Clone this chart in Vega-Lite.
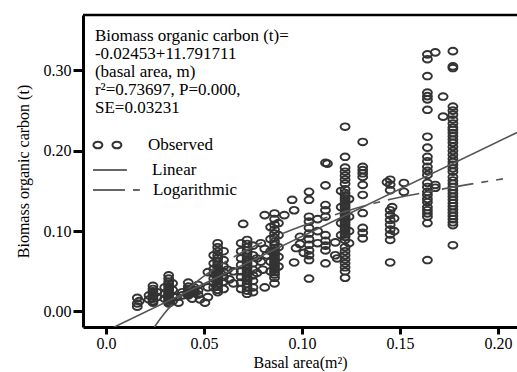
{
  "$schema": "https://vega.github.io/schema/vega-lite/v6.json",
  "width": 434,
  "height": 312,
  "autosize": {"type": "none"},
  "padding": {"left": 83, "top": 15, "right": 0, "bottom": 45},
  "background": "white",
  "config": {
    "view": {"stroke": null},
    "font": "Liberation Serif",
    "axis": {
      "grid": false,
      "domainColor": "black",
      "domainWidth": 3,
      "tickColor": "black",
      "tickWidth": 3,
      "labelFont": "Liberation Serif",
      "labelFontSize": 16,
      "labelFontWeight": "normal",
      "labelColor": "black",
      "titleFont": "Liberation Serif",
      "titleFontSize": 16,
      "titleFontWeight": "normal",
      "titleColor": "black"
    },
    "text": {"font": "Liberation Serif", "fontSize": 17, "color": "black"}
  },
  "datasets": {
    "obs": [
      {"x":0.016,"y":0.017},{"x":0.016,"y":0.010},{"x":0.016,"y":0.006},{"x":0.017,"y":0.013},
      {"x":0.024,"y":0.032},{"x":0.024,"y":0.028},{"x":0.024,"y":0.025},{"x":0.024,"y":0.022},{"x":0.024,"y":0.019},{"x":0.024,"y":0.016},{"x":0.024,"y":0.013},{"x":0.024,"y":0.011},{"x":0.022,"y":0.020},{"x":0.022,"y":0.015},{"x":0.026,"y":0.024},{"x":0.026,"y":0.018},
      {"x":0.032,"y":0.045},{"x":0.032,"y":0.041},{"x":0.032,"y":0.037},{"x":0.032,"y":0.034},{"x":0.032,"y":0.031},{"x":0.032,"y":0.028},{"x":0.032,"y":0.026},{"x":0.032,"y":0.024},{"x":0.032,"y":0.022},{"x":0.032,"y":0.020},{"x":0.032,"y":0.018},{"x":0.032,"y":0.016},{"x":0.032,"y":0.014},{"x":0.032,"y":0.012},{"x":0.032,"y":0.010},{"x":0.030,"y":0.030},{"x":0.030,"y":0.022},{"x":0.030,"y":0.016},{"x":0.034,"y":0.035},{"x":0.034,"y":0.027},{"x":0.034,"y":0.019},{"x":0.034,"y":0.013},{"x":0.037,"y":0.011},{"x":0.036,"y":0.018},
      {"x":0.042,"y":0.036},{"x":0.042,"y":0.031},{"x":0.042,"y":0.028},{"x":0.042,"y":0.026},{"x":0.042,"y":0.024},{"x":0.042,"y":0.022},{"x":0.042,"y":0.020},{"x":0.045,"y":0.030},{"x":0.045,"y":0.027},{"x":0.045,"y":0.025},{"x":0.045,"y":0.023},{"x":0.047,"y":0.033},{"x":0.047,"y":0.026},{"x":0.047,"y":0.021},{"x":0.039,"y":0.024},{"x":0.039,"y":0.020},{"x":0.044,"y":0.016},{"x":0.048,"y":0.015},{"x":0.0505,"y":0.011},
      {"x":0.057,"y":0.085},{"x":0.057,"y":0.080},{"x":0.057,"y":0.075},{"x":0.057,"y":0.070},{"x":0.057,"y":0.066},{"x":0.057,"y":0.062},{"x":0.057,"y":0.058},{"x":0.057,"y":0.055},{"x":0.057,"y":0.052},{"x":0.057,"y":0.050},{"x":0.057,"y":0.048},{"x":0.057,"y":0.046},{"x":0.057,"y":0.044},{"x":0.057,"y":0.042},{"x":0.057,"y":0.040},{"x":0.057,"y":0.038},{"x":0.057,"y":0.035},{"x":0.057,"y":0.031},{"x":0.057,"y":0.027},{"x":0.057,"y":0.024},
      {"x":0.055,"y":0.070},{"x":0.055,"y":0.060},{"x":0.055,"y":0.053},{"x":0.055,"y":0.047},{"x":0.055,"y":0.041},{"x":0.055,"y":0.036},{"x":0.055,"y":0.030},
      {"x":0.060,"y":0.075},{"x":0.060,"y":0.064},{"x":0.060,"y":0.056},{"x":0.060,"y":0.049},{"x":0.060,"y":0.043},{"x":0.060,"y":0.037},{"x":0.060,"y":0.028},
      {"x":0.052,"y":0.049},{"x":0.052,"y":0.030},{"x":0.052,"y":0.018},{"x":0.063,"y":0.040},{"x":0.062,"y":0.052},{"x":0.065,"y":0.050},{"x":0.065,"y":0.035},
      {"x":0.072,"y":0.089},{"x":0.072,"y":0.084},{"x":0.072,"y":0.080},{"x":0.072,"y":0.076},{"x":0.072,"y":0.072},{"x":0.072,"y":0.068},{"x":0.072,"y":0.065},{"x":0.072,"y":0.062},{"x":0.072,"y":0.059},{"x":0.072,"y":0.056},{"x":0.072,"y":0.053},{"x":0.072,"y":0.050},{"x":0.072,"y":0.047},{"x":0.072,"y":0.044},{"x":0.072,"y":0.041},{"x":0.072,"y":0.038},{"x":0.072,"y":0.034},{"x":0.072,"y":0.030},{"x":0.072,"y":0.026},{"x":0.072,"y":0.022},
      {"x":0.069,"y":0.085},{"x":0.069,"y":0.075},{"x":0.069,"y":0.066},{"x":0.069,"y":0.058},{"x":0.069,"y":0.050},{"x":0.069,"y":0.043},{"x":0.069,"y":0.036},{"x":0.069,"y":0.028},
      {"x":0.075,"y":0.082},{"x":0.075,"y":0.070},{"x":0.075,"y":0.060},{"x":0.075,"y":0.052},{"x":0.075,"y":0.045},{"x":0.075,"y":0.038},{"x":0.075,"y":0.030},{"x":0.075,"y":0.024},
      {"x":0.077,"y":0.066},{"x":0.077,"y":0.048},{"x":0.070,"y":0.109},{"x":0.081,"y":0.120},{"x":0.079,"y":0.085},
      {"x":0.086,"y":0.122},{"x":0.086,"y":0.115},{"x":0.086,"y":0.108},{"x":0.086,"y":0.102},{"x":0.086,"y":0.097},{"x":0.086,"y":0.092},{"x":0.086,"y":0.087},{"x":0.086,"y":0.083},{"x":0.086,"y":0.079},{"x":0.086,"y":0.076},{"x":0.086,"y":0.073},{"x":0.086,"y":0.070},{"x":0.086,"y":0.067},{"x":0.086,"y":0.064},{"x":0.086,"y":0.061},{"x":0.086,"y":0.058},{"x":0.086,"y":0.055},{"x":0.086,"y":0.052},{"x":0.086,"y":0.049},{"x":0.086,"y":0.046},{"x":0.086,"y":0.042},
      {"x":0.084,"y":0.105},{"x":0.084,"y":0.090},{"x":0.084,"y":0.075},{"x":0.084,"y":0.062},{"x":0.084,"y":0.050},
      {"x":0.088,"y":0.110},{"x":0.088,"y":0.095},{"x":0.088,"y":0.080},{"x":0.088,"y":0.068},{"x":0.088,"y":0.056},
      {"x":0.086,"y":0.035},{"x":0.079,"y":0.062},{"x":0.080,"y":0.052},{"x":0.082,"y":0.070},{"x":0.081,"y":0.078},{"x":0.081,"y":0.030},{"x":0.095,"y":0.139},{"x":0.096,"y":0.126},{"x":0.091,"y":0.120},{"x":0.096,"y":0.061},
      {"x":0.1036,"y":0.149},{"x":0.1036,"y":0.139},{"x":0.1036,"y":0.118},{"x":0.1036,"y":0.112},{"x":0.1036,"y":0.104},{"x":0.1036,"y":0.097},{"x":0.1036,"y":0.090},{"x":0.1036,"y":0.083},{"x":0.1036,"y":0.076},{"x":0.1036,"y":0.070},{"x":0.1036,"y":0.064},{"x":0.1036,"y":0.041},
      {"x":0.099,"y":0.093},{"x":0.099,"y":0.084},{"x":0.097,"y":0.079},{"x":0.101,"y":0.073},
      {"x":0.112,"y":0.185},{"x":0.112,"y":0.157},{"x":0.112,"y":0.1325},{"x":0.112,"y":0.126},{"x":0.112,"y":0.118},{"x":0.112,"y":0.095},{"x":0.112,"y":0.088},{"x":0.112,"y":0.082},{"x":0.112,"y":0.076},{"x":0.112,"y":0.060},
      {"x":0.108,"y":0.115},{"x":0.108,"y":0.100},{"x":0.108,"y":0.085},
      {"x":0.122,"y":0.230},{"x":0.122,"y":0.1925},{"x":0.122,"y":0.179},{"x":0.122,"y":0.174},{"x":0.122,"y":0.169},{"x":0.122,"y":0.164},{"x":0.122,"y":0.159},{"x":0.122,"y":0.152},{"x":0.122,"y":0.1475},{"x":0.122,"y":0.144},{"x":0.122,"y":0.141},{"x":0.122,"y":0.138},{"x":0.122,"y":0.135},{"x":0.122,"y":0.132},{"x":0.122,"y":0.129},{"x":0.122,"y":0.126},{"x":0.122,"y":0.123},{"x":0.122,"y":0.120},{"x":0.122,"y":0.117},{"x":0.122,"y":0.114},{"x":0.122,"y":0.111},{"x":0.122,"y":0.108},{"x":0.122,"y":0.105},{"x":0.122,"y":0.102},{"x":0.122,"y":0.099},{"x":0.122,"y":0.096},{"x":0.122,"y":0.093},{"x":0.122,"y":0.089},{"x":0.122,"y":0.080},{"x":0.122,"y":0.075},{"x":0.122,"y":0.070},{"x":0.122,"y":0.065},{"x":0.122,"y":0.060},{"x":0.122,"y":0.055},{"x":0.122,"y":0.050},{"x":0.122,"y":0.042},
      {"x":0.120,"y":0.150},{"x":0.120,"y":0.130},{"x":0.120,"y":0.110},{"x":0.120,"y":0.095},
      {"x":0.124,"y":0.140},{"x":0.124,"y":0.118},{"x":0.124,"y":0.100},{"x":0.124,"y":0.085},
      {"x":0.118,"y":0.066},{"x":0.117,"y":0.086},{"x":0.117,"y":0.070},{"x":0.113,"y":0.184},
      {"x":0.131,"y":0.211},{"x":0.131,"y":0.180},{"x":0.131,"y":0.176},{"x":0.131,"y":0.172},{"x":0.131,"y":0.1675},{"x":0.131,"y":0.1575},{"x":0.131,"y":0.145},{"x":0.131,"y":0.1225},{"x":0.131,"y":0.104},{"x":0.131,"y":0.098},{"x":0.131,"y":0.091},
      {"x":0.145,"y":0.164},{"x":0.145,"y":0.158},{"x":0.145,"y":0.151},{"x":0.145,"y":0.126},{"x":0.145,"y":0.120},{"x":0.145,"y":0.114},{"x":0.145,"y":0.108},{"x":0.145,"y":0.102},{"x":0.145,"y":0.096},{"x":0.145,"y":0.089},{"x":0.145,"y":0.061},
      {"x":0.146,"y":0.130},{"x":0.147,"y":0.116},{"x":0.147,"y":0.100},{"x":0.1434,"y":0.161},
      {"x":0.152,"y":0.160},{"x":0.152,"y":0.149},
      {"x":0.164,"y":0.320},{"x":0.164,"y":0.314},{"x":0.164,"y":0.293},{"x":0.164,"y":0.2725},{"x":0.164,"y":0.268},{"x":0.164,"y":0.264},{"x":0.164,"y":0.251},{"x":0.164,"y":0.2175},{"x":0.164,"y":0.204},{"x":0.164,"y":0.1925},{"x":0.164,"y":0.187},{"x":0.164,"y":0.180},{"x":0.164,"y":0.175},{"x":0.164,"y":0.170},{"x":0.164,"y":0.160},{"x":0.164,"y":0.155},{"x":0.164,"y":0.149},{"x":0.164,"y":0.145},{"x":0.164,"y":0.140},{"x":0.164,"y":0.136},{"x":0.164,"y":0.130},{"x":0.164,"y":0.126},{"x":0.164,"y":0.122},{"x":0.164,"y":0.118},{"x":0.164,"y":0.110},{"x":0.164,"y":0.064},
      {"x":0.168,"y":0.3225},{"x":0.168,"y":0.1575},{"x":0.168,"y":0.154},{"x":0.172,"y":0.2675},{"x":0.172,"y":0.2425},
      {"x":0.177,"y":0.324},{"x":0.177,"y":0.305},{"x":0.177,"y":0.303},{"x":0.177,"y":0.255},{"x":0.177,"y":0.250},{"x":0.177,"y":0.245},{"x":0.177,"y":0.239},{"x":0.177,"y":0.234},{"x":0.177,"y":0.229},{"x":0.177,"y":0.226},{"x":0.177,"y":0.222},{"x":0.177,"y":0.218},{"x":0.177,"y":0.214},{"x":0.177,"y":0.210},{"x":0.177,"y":0.205},{"x":0.177,"y":0.200},{"x":0.177,"y":0.195},{"x":0.177,"y":0.190},{"x":0.177,"y":0.186},{"x":0.177,"y":0.1825},{"x":0.177,"y":0.178},{"x":0.177,"y":0.174},{"x":0.177,"y":0.1675},{"x":0.177,"y":0.163},{"x":0.177,"y":0.159},{"x":0.177,"y":0.155},{"x":0.177,"y":0.151},{"x":0.177,"y":0.147},{"x":0.177,"y":0.143},{"x":0.177,"y":0.139},{"x":0.177,"y":0.135},{"x":0.177,"y":0.131},{"x":0.177,"y":0.127},{"x":0.177,"y":0.123},{"x":0.177,"y":0.119},{"x":0.177,"y":0.115},{"x":0.177,"y":0.111},{"x":0.177,"y":0.1075},{"x":0.177,"y":0.0825}
    ],
    "linear": [
      {"x":0.004,"y":-0.0196},{"x":0.2097,"y":0.2227}
    ],
    "logfit": [
      {"x":0.0238,"y":-0.0228},{"x":0.025,"y":-0.0184},{"x":0.03,"y":-0.002},{"x":0.04,"y":0.0239},{"x":0.05,"y":0.044},{"x":0.06,"y":0.0604},{"x":0.07,"y":0.0743},{"x":0.08,"y":0.0863},{"x":0.09,"y":0.0969},{"x":0.10,"y":0.1064},{"x":0.12,"y":0.1228},{"x":0.14,"y":0.1367},{"x":0.16,"y":0.147},{"x":0.18,"y":0.156},{"x":0.2025,"y":0.165}
    ]
  },
  "layer": [
    {
      "data": {"name": "obs"},
      "mark": {"type": "point", "shape": "M -1 0 A 1 0.75 0 1 1 1 0 A 1 0.75 0 1 1 -1 0 Z", "filled": false, "stroke": "#333333", "strokeWidth": 1.9, "size": 80, "opacity": 1},
      "encoding": {
        "x": {"field": "x", "type": "quantitative", "title": "Basal area(m²)", "scale": {"domain": [-0.0117, 0.2097], "nice": false, "zero": false},
          "axis": {"values": [0, 0.05, 0.1, 0.15, 0.2], "labelExpr": "datum.value == 0 ? '0.0' : format(datum.value, '.2f')", "tickSize": 7, "labelPadding": 1, "titlePadding": 3, "labelFlush": false}},
        "y": {"field": "y", "type": "quantitative", "title": "Biomass organic carbon (t)", "scale": {"domain": [-0.0193, 0.369], "nice": false, "zero": false},
          "axis": {"values": [0, 0.1, 0.2, 0.3], "format": ".2f", "tickSize": 10, "labelPadding": 2, "titlePadding": 12}}
      }
    },
    {
      "data": {"name": "linear"},
      "mark": {"type": "line", "stroke": "#555555", "strokeWidth": 1.6, "clip": true},
      "encoding": {"x": {"field": "x", "type": "quantitative", "title": "Basal area(m²)"}, "y": {"field": "y", "type": "quantitative", "title": "Biomass organic carbon (t)"}}
    },
    {
      "data": {"name": "logfit"},
      "mark": {"type": "line", "stroke": "#555555", "strokeWidth": 1.6, "strokeDash": [32, 8, 7, 8], "clip": true, "interpolate": "monotone"},
      "encoding": {"x": {"field": "x", "type": "quantitative", "title": "Basal area(m²)"}, "y": {"field": "y", "type": "quantitative", "title": "Biomass organic carbon (t)"}}
    },
    {
      "data": {"values": [{}]},
      "mark": {"type": "rule", "stroke": "black", "strokeWidth": 2.5},
      "encoding": {"y": {"datum": 0.369, "type": "quantitative", "title": "Biomass organic carbon (t)"}}
    },
    {
      "data": {"values": [{}]},
      "mark": {"type": "text", "align": "left", "baseline": "top", "lineHeight": 18, "text": ["Biomass organic carbon (t)=", "-0.02453+11.791711", "(basal area, m)", "r²=0.73697, P=0.000,", "SE=0.03231"]},
      "encoding": {"x": {"datum": -0.0056, "type": "quantitative", "title": "Basal area(m²)"}, "y": {"datum": 0.3534, "type": "quantitative", "title": "Biomass organic carbon (t)"}}
    },
    {
      "data": {"values": [{}]},
      "mark": {"type": "point", "shape": "M -1 0 A 1 0.75 0 1 1 1 0 A 1 0.75 0 1 1 -1 0 Z", "filled": false, "stroke": "#333333", "strokeWidth": 2, "size": 80, "opacity": 1},
      "encoding": {"x": {"datum": -0.0041, "type": "quantitative", "title": "Basal area(m²)"}, "y": {"datum": 0.2072, "type": "quantitative", "title": "Biomass organic carbon (t)"}}
    },
    {
      "data": {"values": [{}]},
      "mark": {"type": "point", "shape": "M -1 0 A 1 0.75 0 1 1 1 0 A 1 0.75 0 1 1 -1 0 Z", "filled": false, "stroke": "#333333", "strokeWidth": 2, "size": 80, "opacity": 1},
      "encoding": {"x": {"datum": 0.0056, "type": "quantitative", "title": "Basal area(m²)"}, "y": {"datum": 0.2072, "type": "quantitative", "title": "Biomass organic carbon (t)"}}
    },
    {
      "data": {"values": [{}]},
      "mark": {"type": "text", "align": "left", "baseline": "middle", "text": "Observed"},
      "encoding": {"x": {"datum": 0.0214, "type": "quantitative", "title": "Basal area(m²)"}, "y": {"datum": 0.2072, "type": "quantitative", "title": "Biomass organic carbon (t)"}}
    },
    {
      "data": {"values": [{}]},
      "mark": {"type": "rule", "stroke": "#333333", "strokeWidth": 1.6},
      "encoding": {"x": {"datum": -0.0066, "type": "quantitative", "title": "Basal area(m²)"}, "x2": {"datum": 0.0107}, "y": {"datum": 0.1761, "type": "quantitative", "title": "Biomass organic carbon (t)"}}
    },
    {
      "data": {"values": [{}]},
      "mark": {"type": "text", "align": "left", "baseline": "middle", "text": "Linear"},
      "encoding": {"x": {"datum": 0.0235, "type": "quantitative", "title": "Basal area(m²)"}, "y": {"datum": 0.1761, "type": "quantitative", "title": "Biomass organic carbon (t)"}}
    },
    {
      "data": {"values": [{}]},
      "mark": {"type": "rule", "stroke": "#333333", "strokeWidth": 1.6, "strokeDash": [32, 8, 7, 8]},
      "encoding": {"x": {"datum": -0.0066, "type": "quantitative", "title": "Basal area(m²)"}, "x2": {"datum": 0.0173}, "y": {"datum": 0.1512, "type": "quantitative", "title": "Biomass organic carbon (t)"}}
    },
    {
      "data": {"values": [{}]},
      "mark": {"type": "text", "align": "left", "baseline": "middle", "text": "Logarithmic"},
      "encoding": {"x": {"datum": 0.024, "type": "quantitative", "title": "Basal area(m²)"}, "y": {"datum": 0.1512, "type": "quantitative", "title": "Biomass organic carbon (t)"}}
    }
  ]
}
